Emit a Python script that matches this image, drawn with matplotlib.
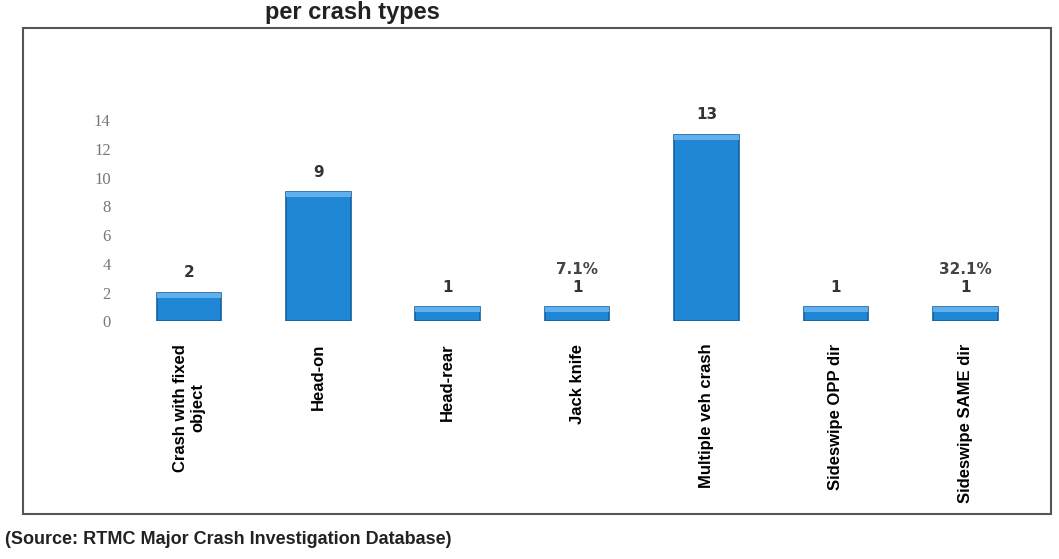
import matplotlib
matplotlib.use('Agg')
import matplotlib.pyplot as plt
from matplotlib.patches import Rectangle

categories = ['Crash with fixed\nobject', 'Head-on', 'Head-rear', 'Jack knife',
              'Multiple veh crash', 'Sideswipe OPP dir', 'Sideswipe SAME dir']
counts = [2, 9, 1, 1, 13, 1, 1]
pct_labels = ['', '', '', '7.1%', '', '', '32.1%']
yticks = [0, 2, 4, 6, 8, 10, 12, 14]

fig = plt.figure(figsize=(10.59, 5.59), dpi=100)
ax = fig.add_axes([0.115, 0.425, 0.86, 0.36])

x = list(range(len(categories)))
bars = ax.bar(x, counts, width=0.5, color='#2086d6', edgecolor='#15609f', linewidth=1.2)
# lighter strip on top of each bar, like the 3D look in the original
ax.bar(x, [0.35] * len(x), bottom=[c - 0.35 for c in counts], width=0.5,
       color='#5fb0ec', edgecolor='none')

ax.bar_label(bars, labels=[str(c) for c in counts], padding=9,
             fontsize=11, fontweight='bold', color='#333333', family='DejaVu Sans')
for i, p in enumerate(pct_labels):
    if p:
        ax.annotate(p, (x[i], counts[i]), xytext=(0, 24), textcoords='offset points',
                    ha='center', fontsize=11, fontweight='bold', color='#444444')

ax.set_xlim(-0.52, len(x) - 0.48)
ax.set_ylim(0, 14)
ax.set_yticks(yticks)
ax.set_yticklabels([str(t) for t in yticks], family='Liberation Serif',
                   fontsize=12, color='#777777')
ax.set_xticks(x)
ax.set_xticklabels(categories, rotation=90, fontsize=12, fontweight='bold',
                   family='Liberation Sans', va='top', ha='center')
ax.tick_params(axis='both', length=0)
ax.tick_params(axis='y', pad=8)
ax.tick_params(axis='x', pad=16)
for s in ax.spines.values():
    s.set_visible(False)

# frame around the chart
fig.patches.append(Rectangle((0.022, 0.08), 0.97, 0.87, transform=fig.transFigure,
                             fill=False, edgecolor='#555555', linewidth=1.5))

fig.text(0.25, 0.998, 'per crash types', fontsize=17, fontweight='bold',
         family='Liberation Sans', va='top', color='#222222')
fig.text(0.005, 0.035, '(Source: RTMC Major Crash Investigation Database)', fontsize=13,
         fontweight='bold', family='Liberation Sans', va='center', color='#222222')

fig.savefig('out.png', dpi=100)
